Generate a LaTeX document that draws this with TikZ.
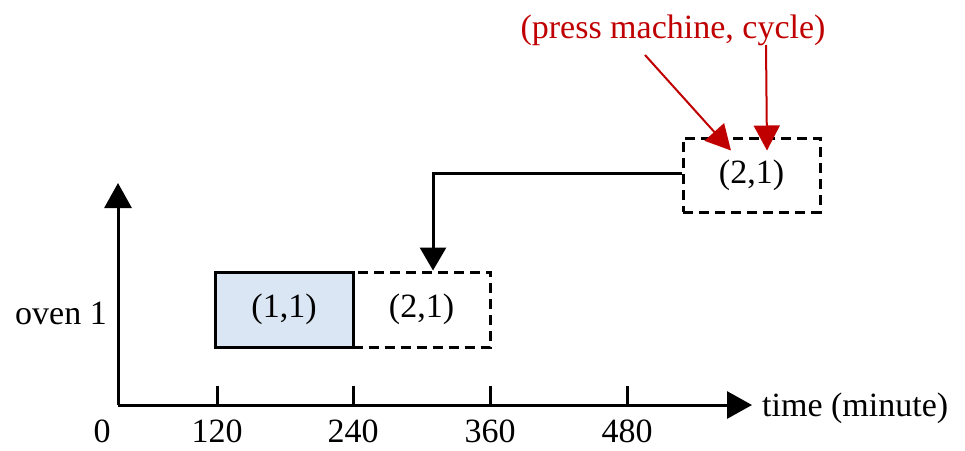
\documentclass[tikz,border=0pt]{standalone}
\usepackage{fontspec}
\setmainfont{Liberation Serif}
\usetikzlibrary{arrows.meta,calc}
\definecolor{boxblue}{RGB}{218,230,243}
\definecolor{darkred}{RGB}{192,0,0}
\begin{document}
\begin{tikzpicture}[x=1pt,y=-1pt,
  lbltxt/.style={font=\fontsize{34}{40}\selectfont, inner sep=0pt},
  axisline/.style={line width=3pt, -{Triangle[length=25pt,width=27pt]}},
  slot/.style={minimum width=138pt, minimum height=75pt, line width=3pt, inner sep=0pt, font=\fontsize{34}{40}\selectfont},
  dashslot/.style={slot, draw, dash pattern=on 10pt off 6pt},
  redarrow/.style={draw=darkred, line width=2pt, -{Triangle[length=25pt,width=26pt]}, fill=darkred}
]
\useasboundingbox (0,0) rectangle (965,450);
% axes
\coordinate (O) at (118,405);
\coordinate (ytip) at (118,183);
\coordinate (xtip) at (752,405);
\draw[axisline] (O) -- (ytip);
\draw[axisline] (O) -- (xtip);
% ticks
\foreach \x/\n in {217/a,353/b,490/c,627/d}{
  \coordinate (t\n) at (\x,405);
  \draw[line width=3pt] (t\n) -- ++(0,-19);
}
\node[lbltxt] (l0) at (102,431) {0};
\node[lbltxt] (l1) at (217,431) {120};
\node[lbltxt] (l2) at (353,431) {240};
\node[lbltxt] (l3) at (490,431) {360};
\node[lbltxt] (l4) at (627,431) {480};
\node[lbltxt, anchor=west] (tl) at (762,408) {time (minute)};
\node[lbltxt] (ov) at (61,313) {oven 1};
% boxes
\node[dashslot] (low) at (421.5,309.5) {(2,1)};
\node[slot, draw, solid, fill=boxblue] (b11) at (284,309.5) {(1,1)};
\node[dashslot, minimum width=137pt, minimum height=74pt] (up) at (751.5,175) {(2,1)};
% connector
\draw[line width=3pt, -{Triangle[length=23pt,width=26pt]}] ([yshift=2pt]up.west) -| ([xshift=11.5pt]low.north);
% red label
\node[lbltxt, text=darkred] (lbl) at (673,30) {(press machine, cycle)};
\draw[redarrow] ($(lbl)+(-28,25)$) -- ($(up.north)+(-20.5,14)$);
\draw[redarrow] ($(lbl)+(93,15)$) -- ($(up.north)+(15.5,14)$);
\end{tikzpicture}
\end{document}
